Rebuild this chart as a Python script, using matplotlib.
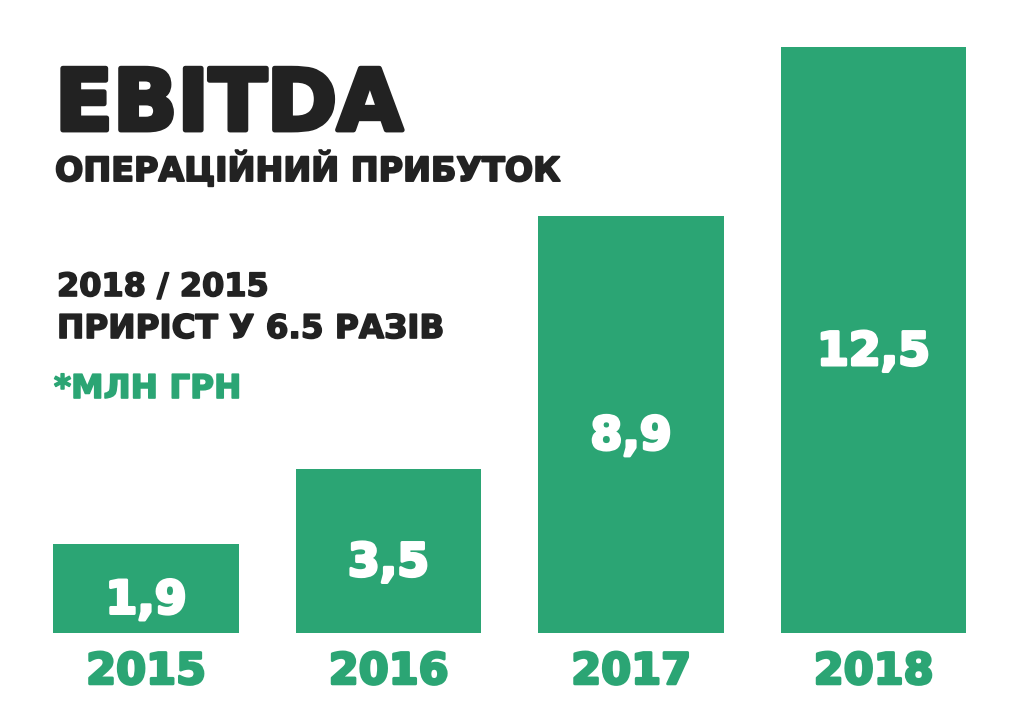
import matplotlib
matplotlib.use("Agg")
import matplotlib.pyplot as plt
import matplotlib.patheffects as pe

years = ["2015", "2016", "2017", "2018"]
values = [1.9, 3.5, 8.9, 12.5]
value_labels = ["1,9", "3,5", "8,9", "12,5"]

GREEN = "#2ba574"
DARK = "#222222"
W, H = 1024, 717

plt.rcParams['font.family'] = ['DejaVu Sans']

fig = plt.figure(figsize=(W / 100, H / 100), dpi=100, facecolor="white")

def fx(px):
    return px / W

def fy(py):
    return (H - py) / H

def heavy(color, lw):
    return [pe.withStroke(linewidth=lw, foreground=color)]

left, right = 24.75, 994.75
bottom, top = 633, 47
ax = fig.add_axes([fx(left), fy(bottom), fx(right - left), (bottom - top) / H])
ax.set_xlim(-0.5, len(years) - 0.5)
ax.set_ylim(0, 12.5)
ax.axis("off")

x = list(range(len(years)))
ax.bar(x, values, width=0.767, color=GREEN)
for xi, v, lab in zip(x, values, value_labels):
    ax.annotate(lab, (xi, v / 2), xytext=(0, -9), textcoords="offset points",
                ha="center", va="center", color="white", fontsize=33, fontweight="bold",
                path_effects=heavy("white", 2.2))
    ax.annotate(years[xi], (xi, 0), xytext=(0, -28), textcoords="offset points",
                ha="center", va="center", color=GREEN, fontsize=31, fontweight="bold",
                path_effects=heavy(GREEN, 2.0), annotation_clip=False)

fig.text(fx(55), fy(130), "EBITDA", fontsize=61, fontweight="bold", color=DARK, va="baseline",
         path_effects=heavy(DARK, 3.5))
fig.text(fx(55), fy(181), "ОПЕРАЦІЙНИЙ ПРИБУТОК", fontsize=24, fontweight="bold", color=DARK,
         va="baseline", path_effects=heavy(DARK, 1.4))
fig.text(fx(57), fy(296), "2018 / 2015", fontsize=23, fontweight="bold", color=DARK, va="baseline",
         path_effects=heavy(DARK, 1.2))
fig.text(fx(57), fy(338), "ПРИРІСТ У 6.5 РАЗІВ", fontsize=23.5, fontweight="bold", color=DARK,
         va="baseline", path_effects=heavy(DARK, 1.2))
fig.text(fx(54), fy(398), "*МЛН ГРН", fontsize=23.5, fontweight="bold", color=GREEN, va="baseline",
         path_effects=heavy(GREEN, 1.2))

fig.savefig("out.png", dpi=100, facecolor="white")
